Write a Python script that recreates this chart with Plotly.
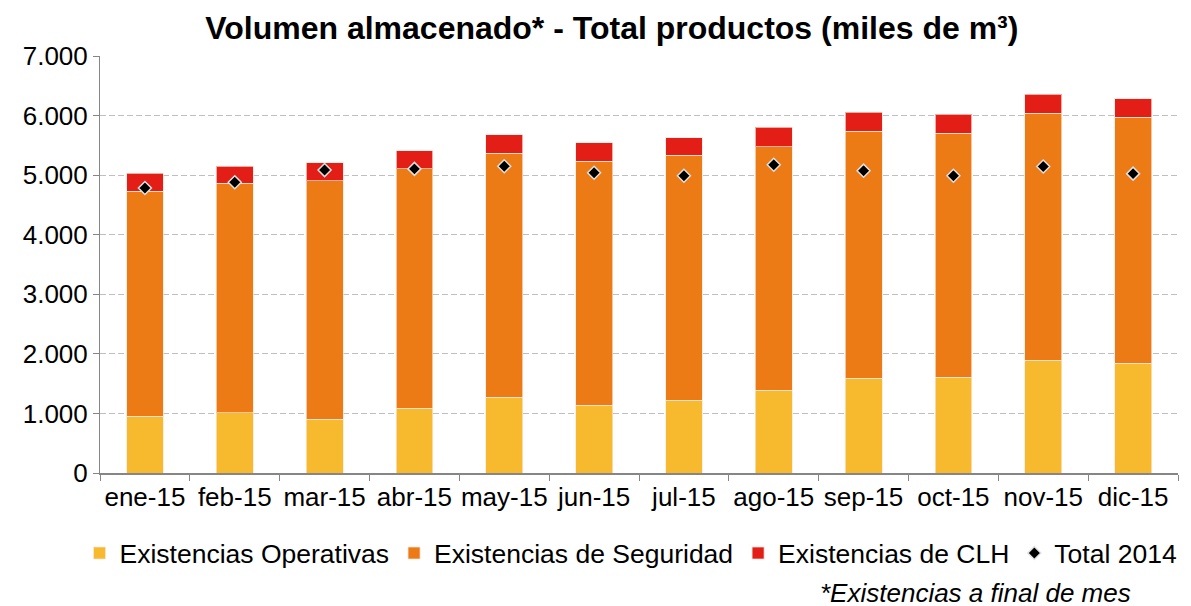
import plotly.graph_objects as go

meses = ["ene-15", "feb-15", "mar-15", "abr-15", "may-15", "jun-15",
         "jul-15", "ago-15", "sep-15", "oct-15", "nov-15", "dic-15"]
operativas = [950, 1010, 900, 1090, 1270, 1140, 1220, 1390, 1590, 1610, 1890, 1840]
seguridad = [3780, 3850, 4010, 4020, 4100, 4090, 4110, 4090, 4150, 4090, 4150, 4130]
clh = [300, 290, 300, 300, 305, 310, 300, 320, 320, 320, 320, 315]
total_2014 = [4785, 4880, 5085, 5105, 5150, 5040, 4990, 5175, 5075, 4990, 5145, 5025]

FONT = "Liberation Sans, Arial, sans-serif"
edge = dict(color="rgba(255,230,220,0.7)", width=1)

fig = go.Figure()
fig.add_trace(go.Bar(x=meses, y=operativas, name="Existencias Operativas",
                     marker=dict(color="#F7B92E", line=edge)))
fig.add_trace(go.Bar(x=meses, y=seguridad, name="Existencias de Seguridad",
                     marker=dict(color="#EC7A15", line=edge)))
fig.add_trace(go.Bar(x=meses, y=clh, name="Existencias de CLH",
                     marker=dict(color="#E31E16", line=edge)))
fig.add_trace(go.Scatter(x=meses, y=total_2014, name="Total 2014", mode="markers",
                         marker=dict(symbol="diamond", color="black", size=10,
                                     line=dict(color="#E0E0E0", width=1.5))))

# the page body adds an 8px offset; margins compensate for it
fig.update_layout(
    barmode="stack",
    bargap=0.59,
    width=1191, height=606,
    margin=dict(l=92, r=21, t=48, b=141, autoexpand=False),
    paper_bgcolor="white", plot_bgcolor="white",
    separators=",.",
    font=dict(family=FONT, size=26, color="black"),
    title=dict(text="<b>Volumen almacenado* - Total productos (miles de m³)</b>",
               x=0.507, xanchor="center", y=0.968, yanchor="middle",
               font=dict(family=FONT, size=32, color="black")),
    showlegend=True,
    legend=dict(orientation="h", x=-0.019, xanchor="left", y=-0.135, yanchor="top",
                font=dict(family=FONT, size=26.5, color="black"),
                itemwidth=30, traceorder="normal", bgcolor="rgba(0,0,0,0)"),
    annotations=[dict(text="<i>*Existencias a final de mes</i>", xref="paper", yref="paper",
                      x=0.958, xanchor="right", y=-0.288, yanchor="middle", showarrow=False,
                      font=dict(family=FONT, size=26, color="black"))],
)
fig.update_yaxes(range=[0, 7000], dtick=1000, tickformat=",d",
                 showgrid=True, gridcolor="#BFBFBF", griddash="6px,3px", gridwidth=1,
                 showline=True, linecolor="#868686", linewidth=1,
                 ticks="outside", ticklen=6, tickcolor="#868686",
                 tickfont=dict(family=FONT, size=26), zeroline=False, automargin=False)
fig.update_xaxes(range=[-0.5, 11.5], showline=True, linecolor="#868686", linewidth=2,
                 ticks="outside", ticklen=6, tickcolor="#868686", tickson="boundaries",
                 tickangle=0, tickfont=dict(family=FONT, size=26), showgrid=False,
                 automargin=False)

fig.write_html("out.html")
